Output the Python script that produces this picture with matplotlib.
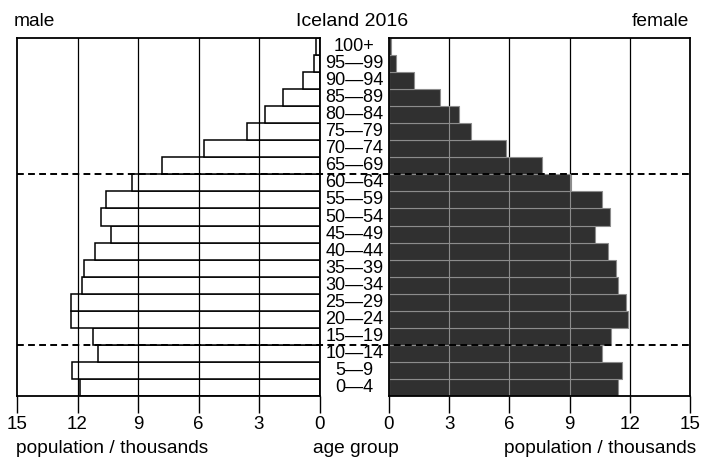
import matplotlib
matplotlib.use('Agg')
import matplotlib.pyplot as plt
from matplotlib.lines import Line2D
from matplotlib.transforms import blended_transform_factory
import numpy as np

plt.rcParams['font.family'] = ['Liberation Sans', 'DejaVu Sans']

# ---- data (thousands) ----
age_groups = ['0—4', '5—9', '10—14', '15—19', '20—24', '25—29', '30—34',
              '35—39', '40—44', '45—49', '50—54', '55—59', '60—64', '65—69',
              '70—74', '75—79', '80—84', '85—89', '90—94', '95—99', '100+']
male = [11.9, 12.25, 11.0, 11.25, 12.3, 12.3, 11.8, 11.7, 11.15, 10.35, 10.85,
        10.6, 9.3, 7.8, 5.75, 3.6, 2.7, 1.8, 0.83, 0.28, 0.15]
female = [11.4, 11.6, 10.6, 11.05, 11.9, 11.8, 11.4, 11.3, 10.9, 10.27, 11.0,
          10.6, 9.07, 7.6, 5.85, 4.07, 3.5, 2.52, 1.27, 0.36, 0.12]
xticks = [0, 3, 6, 9, 12, 15]
# dashed separators lie between these age groups
dash_groups = [('10—14', '15—19'), ('60—64', '65—69')]

W, H = 708, 466
fig = plt.figure(figsize=(W / 100, H / 100), dpi=100)


def rect(x0, x1, ytop, ybot):
    return [x0 / W, 1 - ybot / H, (x1 - x0) / W, (ybot - ytop) / H]


axL = fig.add_axes(rect(17, 319.5, 38, 396))
axR = fig.add_axes(rect(389, 690, 38, 396))

y = np.arange(len(age_groups))
male_a = np.array(male)
female_a = np.array(female)

axL.barh(y, male_a, height=1.0, color='white', edgecolor='black', lw=1.1, zorder=2)
axR.barh(y, female_a, height=1.0, color='#303030', edgecolor='#8c8c8c', lw=0.8, zorder=2)

for ax in (axL, axR):
    ax.set_ylim(-0.5, len(age_groups) - 0.5)
    ax.set_yticks([])
    ax.set_xticks(xticks)
    ax.tick_params(axis='x', direction='out', length=12, width=1.0, pad=2.5,
                   labelsize=13.5, colors='black')
    for s in ax.spines.values():
        s.set_linewidth(1.3)
        s.set_color('black')
        s.set_zorder(5)

axL.set_xlim(15, 0)
axR.set_xlim(0, 15)

for g in xticks[1:-1]:
    axL.axvline(g, color='black', lw=0.9, zorder=3)
    axR.axvline(g, color='black', lw=0.9, zorder=1)
    mask = female_a > g
    axR.vlines(np.full(mask.sum(), g), y[mask] - 0.5, y[mask] + 0.5,
               color='#8c8c8c', lw=0.8, zorder=3)

# age group labels in the middle
trans = blended_transform_factory(fig.transFigure, axL.transData)
xmid = (axL.get_position().x1 + axR.get_position().x0) / 2
for yi, lab in zip(y, age_groups):
    axL.text(xmid, yi, lab, transform=trans, ha='center', va='center',
             fontsize=13, clip_on=False)

# dashed separator lines spanning both panels
x_start = axL.get_position().x0
x_end = axR.get_position().x1
for lo, hi in dash_groups:
    b = (age_groups.index(lo) + age_groups.index(hi)) / 2
    fig.add_artist(Line2D([x_start, x_end], [b, b], transform=trans,
                          color='black', lw=1.4, dashes=(3.5, 2.2), zorder=6))

# titles
fig.text(14 / W, 1 - 26 / H, 'male', ha='left', va='baseline', fontsize=13.8)
fig.text(352 / W, 1 - 26 / H, 'Iceland 2016', ha='center', va='baseline', fontsize=14)
fig.text(689 / W, 1 - 26 / H, 'female', ha='right', va='baseline', fontsize=13.8)

# bottom labels
fig.text(16 / W, 1 - 453 / H, 'population / thousands', ha='left', va='baseline', fontsize=13.8)
fig.text(356 / W, 1 - 453 / H, 'age group', ha='center', va='baseline', fontsize=13.8)
fig.text(696 / W, 1 - 453 / H, 'population / thousands', ha='right', va='baseline', fontsize=13.8)

fig.savefig('out.png', dpi=100)
